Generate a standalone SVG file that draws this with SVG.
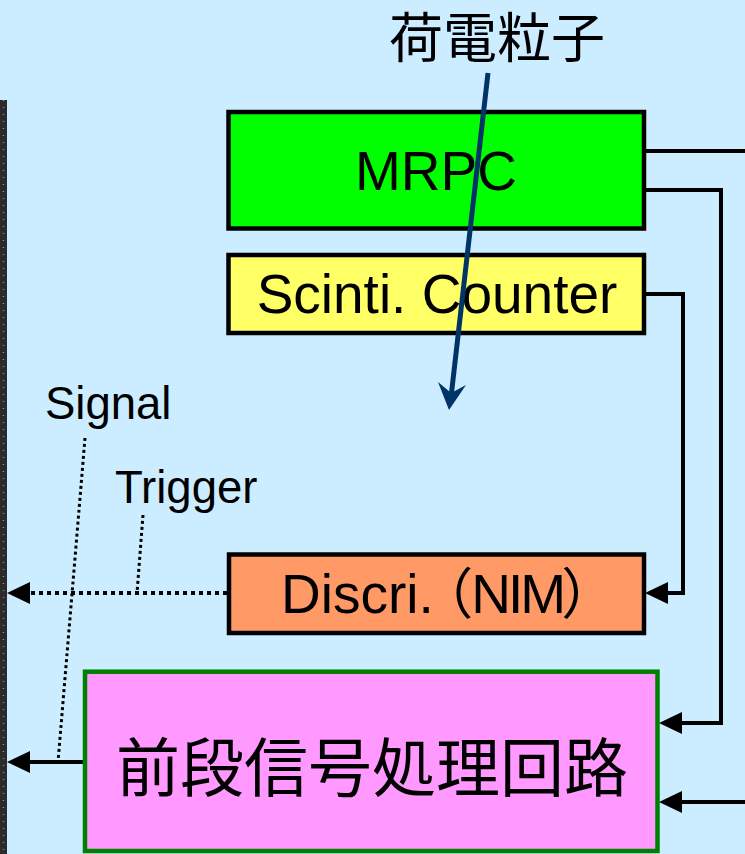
<svg xmlns="http://www.w3.org/2000/svg" width="745" height="854" viewBox="0 0 745 854">
<defs>
<style>
.bg{fill:#CCECFF}
.box{stroke:#000;stroke-width:4.5}
.lbl{font-family:"Liberation Sans",Arial,"Noto Sans CJK JP",sans-serif;font-size:55px;fill:#000}
.cjk{font-family:"Noto Sans CJK JP","Noto Sans CJK SC",sans-serif;fill:#000}
.note{font-family:"Liberation Sans",Arial,sans-serif;font-size:45.5px;fill:#000}
.wire{fill:none;stroke:#000;stroke-width:4}
.dot{fill:none;stroke:#000;stroke-width:4;stroke-dasharray:4 4}
.lead{fill:none;stroke:#000;stroke-width:3;stroke-dasharray:3 3}
.palt{font-feature-settings:"palt"}
</style>
<marker id="ah" markerUnits="userSpaceOnUse" markerWidth="23" markerHeight="23" refX="0" refY="11" orient="auto" viewBox="0 0 23 22">
<path d="M0,0 L23,11 L0,22 z" fill="#000"/>
</marker>
</defs>
<rect class="bg" x="0" y="0" width="745" height="854"/>
<rect x="0" y="100" width="7" height="754" fill="#2b2b2b"/>
<line x1="3.5" y1="100" x2="3.5" y2="854" stroke="#8a8a8a" stroke-width="1.5" stroke-dasharray="1 6"/>

<g id="title">
<text class="cjk" x="497" y="58" font-size="54" text-anchor="middle">荷電粒子</text>
</g>

<g id="connectors">
<polyline class="wire" points="644,151 745,151"/>
<polyline class="wire" points="644,190 721,190 721,723 682,723" marker-end="url(#ah)"/>
<polyline class="wire" points="644,294 683,294 683,593 668,593" marker-end="url(#ah)"/>
<polyline class="wire" points="745,802 682,802" marker-end="url(#ah)"/>
<polyline class="dot" points="227,593 30,593" marker-end="url(#ah)"/>
<polyline class="wire" points="85,762 30,762" marker-end="url(#ah)"/>
<line class="lead" x1="85" y1="438" x2="58" y2="762"/>
<line class="lead" x1="143" y1="515" x2="137" y2="593"/>
</g>

<g id="labels">
<text class="note" x="45" y="419">Signal</text>
<text class="note" x="115" y="503">Trigger</text>
</g>

<g id="mrpc">
<rect class="box" x="228.5" y="112" width="415.5" height="116.5" fill="#00FF00"/>
<text class="lbl" x="436" y="190" text-anchor="middle">MRPC</text>
</g>

<g id="scinti">
<rect class="box" x="228.5" y="255" width="415.5" height="78" fill="#FFFF66"/>
<text class="lbl" x="437" y="313" text-anchor="middle">Scinti. Counter</text>
</g>

<g id="discri">
<rect class="box" x="229" y="554.5" width="415" height="78.5" fill="#FF9966"/>
<text class="lbl palt" x="281" y="613" font-size="53">Discri.<tspan dx="10">（</tspan><tspan letter-spacing="-3">NIM</tspan>）</text>
</g>

<g id="frontend">
<rect x="85" y="671.7" width="572.5" height="179.3" fill="#FF99FF" stroke="#008000" stroke-width="4.5"/>
<text class="cjk" x="372" y="791" font-size="64" text-anchor="middle">前段信号処理回路</text>
</g>

<g id="particle">
<line x1="488" y1="73" x2="451.5" y2="393" stroke="#003366" stroke-width="5"/>
<path d="M449,410 L438,382 L451.2,393 L466,385 z" fill="#003366"/>
</g>
</svg>
